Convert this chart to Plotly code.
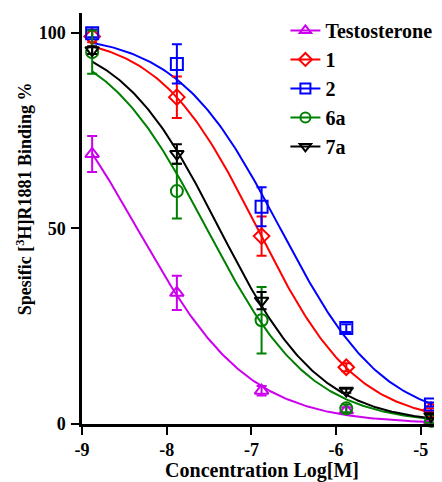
import numpy as np
import plotly.graph_objects as go

# ---- data ----
log_conc = [-8.88, -7.88, -6.88, -5.88, -4.88]
series_names = ["Testosterone", "1", "2", "6a", "7a"]
testosterone = [69.0, 33.5, 8.5, 3.5, 0.8]
testosterone_err = [4.6, 4.4, 1.2, 0.8, 0.5]
cmpd_1 = [99.0, 83.5, 48.0, 14.5, 3.5]
cmpd_1_err = [1.5, 5.3, 5.0, 1.0, 0.5]
cmpd_2 = [99.8, 92.0, 55.5, 24.5, 5.0]
cmpd_2_err = [1.0, 5.0, 5.0, 1.0, 0.5]
cmpd_6a = [95.0, 59.5, 26.5, 4.0, 0.8]
cmpd_6a_err = [5.5, 7.0, 8.5, 1.0, 0.5]
cmpd_7a = [95.5, 69.0, 31.5, 8.5, 2.0]
cmpd_7a_err = [1.0, 2.5, 2.2, 0.5, 0.5]
# fitted sigmoid (4PL, top=100, bottom=0) parameters
log_ic50 = [-8.35, -6.93, -6.66, -7.53, -7.38]
hill = [0.66, 0.74, 0.71, 0.71, 0.73]
y_title = "Spesific [<sup>3</sup>H]R1881 Binding %"
x_title = "Concentration Log[M]"

values = [testosterone, cmpd_1, cmpd_2, cmpd_6a, cmpd_7a]
errors = [testosterone_err, cmpd_1_err, cmpd_2_err, cmpd_6a_err, cmpd_7a_err]
colors = ["#CC00EE", "#FF0000", "#0000FF", "#008000", "#000000"]
symbols = ["triangle-up-open", "diamond-open", "square-open", "circle-open", "triangle-down-open"]

FONT = "Liberation Serif, Times New Roman, serif"

fig = go.Figure()
xs = np.linspace(log_conc[0], log_conc[-1], 200)
for i in range(5):
    curve = 100.0 / (1.0 + 10 ** (hill[i] * (xs - log_ic50[i])))
    fig.add_trace(go.Scatter(x=xs, y=curve, mode="lines",
                             line=dict(color=colors[i], width=2),
                             showlegend=False, hoverinfo="skip"))
for i in range(5):
    fig.add_trace(go.Scatter(
        x=log_conc, y=values[i], mode="markers",
        marker=dict(symbol=symbols[i], size=12, color=colors[i],
                    line=dict(width=2, color=colors[i])),
        error_y=dict(type="data", array=errors[i], color=colors[i],
                     thickness=2, width=5),
        cliponaxis=False, showlegend=False))
for i in range(5):
    fig.add_trace(go.Scatter(
        x=[None], y=[None], mode="lines+markers", name=series_names[i],
        line=dict(color=colors[i], width=2),
        marker=dict(symbol=symbols[i], size=10, color=colors[i],
                    line=dict(width=2, color=colors[i]))))

# the page body adds an 8px offset, so the figure is 8px smaller on each axis
fig.update_layout(
    width=434, height=474,
    margin=dict(l=74, r=0, t=5, b=58),
    paper_bgcolor="white", plot_bgcolor="white",
    font=dict(family=FONT, color="black", size=18),
    legend=dict(x=0.565, y=1.005, xanchor="left", yanchor="top",
                font=dict(family=FONT, size=20, color="black", weight="bold"),
                bgcolor="rgba(0,0,0,0)", itemwidth=30, tracegroupgap=0),
    xaxis=dict(range=[-9, -4.75], tickvals=[-9, -8, -7, -6, -5],
               ticktext=["-9", "-8", "-7", "-6", "-5"],
               showline=True, linecolor="black", linewidth=2.5,
               ticks="outside", ticklen=8, tickwidth=2, tickcolor="black",
               showgrid=False, zeroline=False,
               tickfont=dict(family=FONT, size=18, weight="bold"),
               title=dict(text=x_title, standoff=8,
                          font=dict(family=FONT, size=20, weight="bold"))),
    yaxis=dict(range=[0, 105], tickvals=[0, 50, 100],
               showline=True, linecolor="black", linewidth=2.5,
               ticks="outside", ticklen=8, tickwidth=2, tickcolor="black",
               ticklabelstandoff=2,
               showgrid=False, zeroline=False,
               tickfont=dict(family=FONT, size=18, weight="bold")),
    annotations=[dict(text=y_title, textangle=-90, showarrow=False,
                      xref="paper", yref="paper", x=-0.161, y=0.547,
                      xanchor="center", yanchor="middle",
                      font=dict(family=FONT, size=18, color="black", weight="bold"))],
)
fig.write_html("out.html")
